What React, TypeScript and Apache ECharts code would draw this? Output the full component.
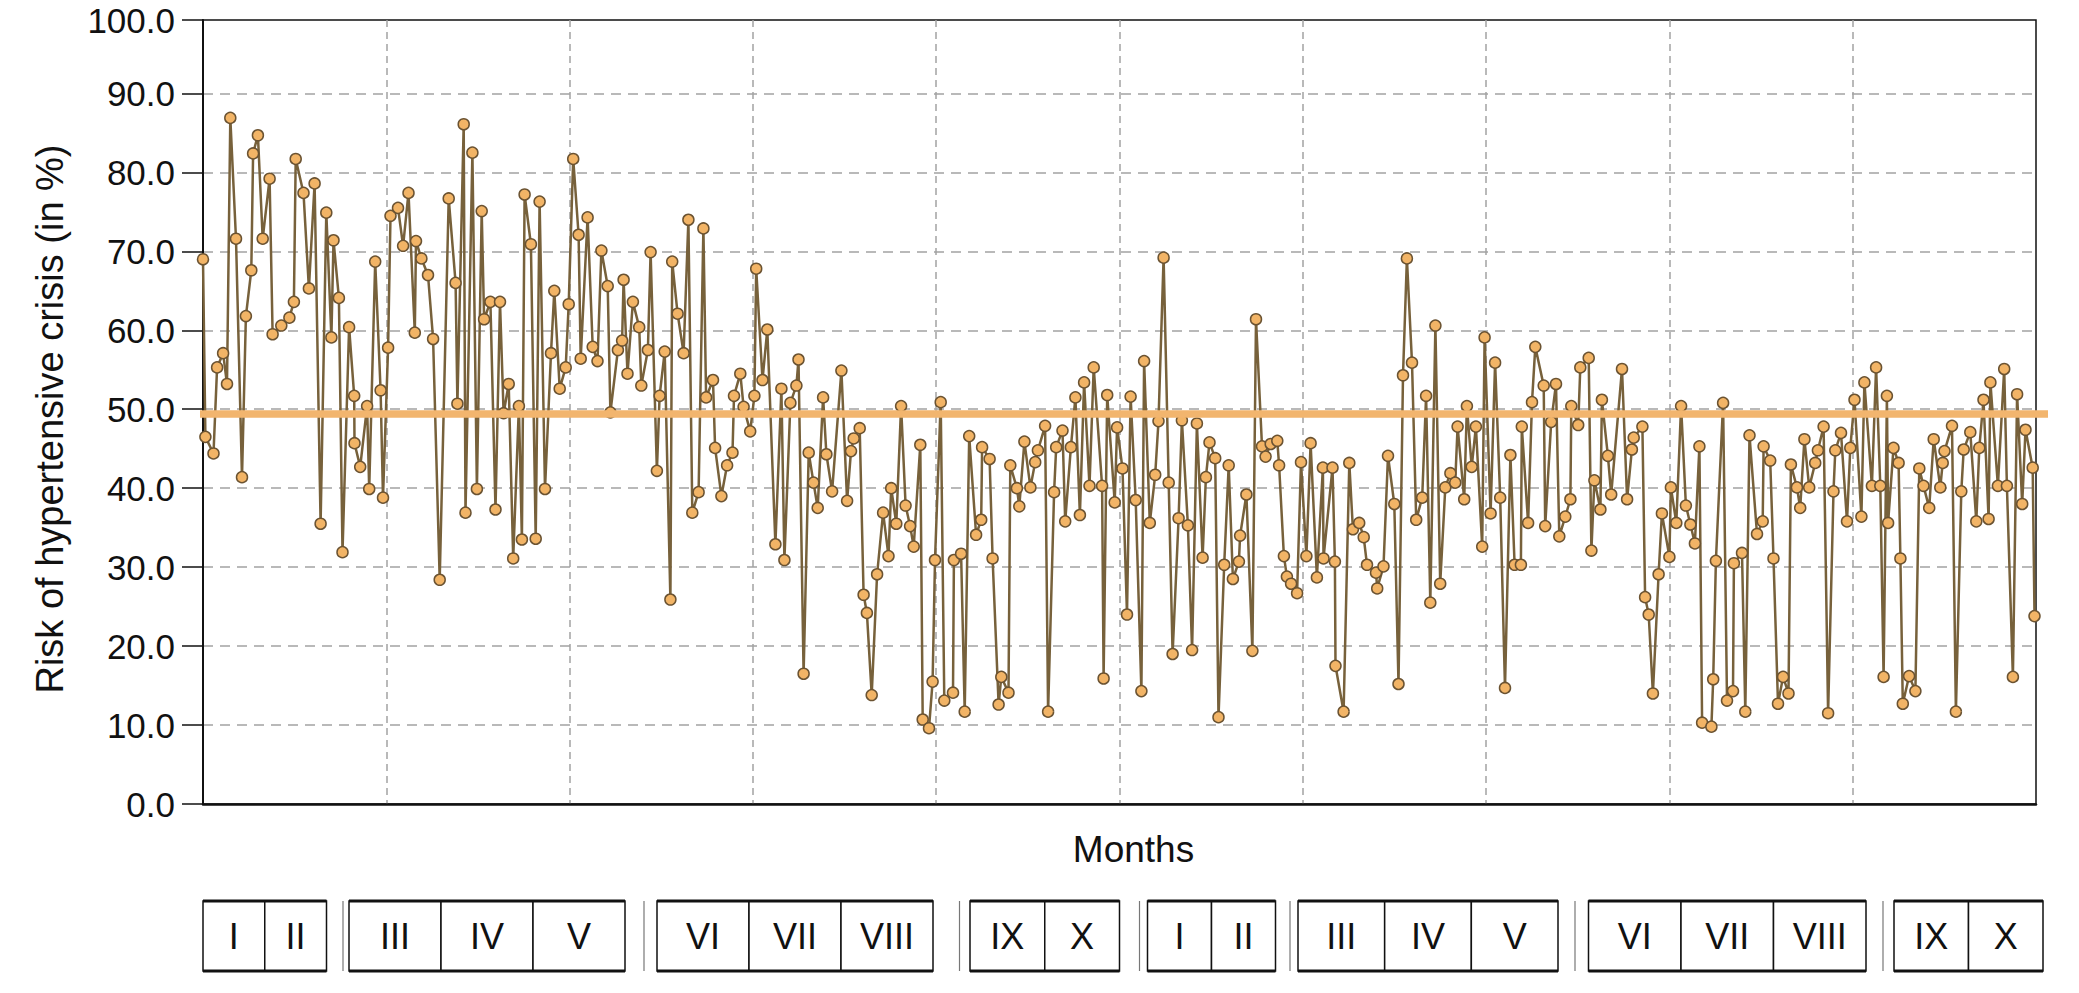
import React, { useEffect, useRef } from "react";
import * as echarts from "echarts";

const riskValues: number[] = [
  69.0, 46.5, 44.4, 55.3, 57.1, 53.2, 86.9, 71.6, 41.4, 61.8,
  67.6, 82.4, 84.7, 71.6, 79.2, 59.5, 60.6, 61.6, 63.6, 81.7,
  77.4, 65.3, 78.6, 35.5, 74.9, 59.1, 71.4, 64.1, 31.9, 60.4,
  51.7, 45.7, 42.7, 50.4, 39.9, 68.7, 52.4, 38.8, 57.8, 74.5,
  75.5, 70.7, 77.4, 59.7, 71.3, 69.1, 67.0, 58.9, 28.4, 76.7,
  66.0, 50.7, 86.1, 36.9, 82.5, 39.9, 75.1, 61.4, 63.6, 37.3,
  63.6, 49.5, 53.2, 31.1, 50.4, 33.5, 77.2, 70.9, 33.6, 76.3,
  39.9, 57.1, 65.0, 52.6, 55.3, 63.3, 81.7, 72.1, 56.4,
  74.3, 57.9, 56.1, 70.1, 65.6, 49.6, 57.5, 58.7, 66.4, 54.5,
  63.6, 60.4, 53.0, 57.5, 69.9, 42.2, 51.7, 57.3, 25.9, 68.7,
  62.1, 57.1, 74.0, 36.9, 39.5, 72.9, 51.5, 53.7, 45.1, 39.0,
  42.9, 44.5, 51.7, 54.5, 50.3, 47.2, 51.7, 67.8, 53.7, 60.1,
  32.9, 52.6, 30.9, 50.8, 53.0, 56.3, 16.5, 44.5, 40.7, 37.5,
  51.5, 44.3, 39.6, 54.9, 38.4, 44.7, 46.3, 47.6, 26.5, 24.2,
  13.8, 29.1, 36.9, 31.4, 40.0, 35.5, 50.4, 37.8, 35.2, 32.6,
  45.5, 10.7, 9.6, 15.5, 30.9, 50.9, 13.1, 14.1, 30.9,
  31.7, 11.7, 46.6, 34.1, 36.0, 45.2, 43.7, 31.1, 12.6, 16.1,
  14.1, 42.9, 40.0, 37.7, 45.9, 40.1, 43.3, 44.8, 47.9, 11.7,
  39.5, 45.2, 47.3, 35.8, 45.2, 51.5, 36.6, 53.4, 40.3, 55.3,
  40.3, 15.9, 51.8, 38.2, 47.7, 42.5, 24.0, 51.6, 38.5, 14.3,
  56.1, 35.6,
  41.7, 48.5, 69.2, 40.7, 19.0, 36.2, 48.6, 35.3, 19.5, 48.2,
  31.2, 41.4, 45.8, 43.8, 11.0, 30.3, 42.9, 28.5, 30.7, 34.0,
  39.2, 19.4, 61.4, 45.3, 44.0, 45.6, 46.0, 42.9, 31.4, 28.8,
  27.9, 26.7, 43.3, 31.4, 45.7, 28.7, 42.6, 31.1, 42.6, 30.7, 17.5,
  11.7, 43.2, 34.8, 35.6, 33.8, 30.3, 29.3, 27.3, 30.1, 44.1,
  38.0, 15.2, 54.3, 69.1, 55.9, 36.0, 38.8, 51.7, 25.5, 60.6,
  27.9, 40.1, 41.9, 40.7, 47.8, 38.6, 50.4, 42.7, 47.8, 32.6,
  59.1, 36.8, 55.9, 38.8, 14.7, 44.2, 30.3, 30.3, 47.8, 35.6,
  50.9, 57.9, 53.0, 35.2, 48.4, 53.2, 33.9, 36.4, 38.6, 50.4,
  48.0, 55.3, 56.5, 32.1, 41.0, 37.3, 51.2, 44.1, 39.2, 55.1,
  38.6, 44.9, 46.4, 47.8, 26.2, 24.0, 14.0, 29.1, 36.8, 31.3,
  40.1, 35.6, 50.4, 37.8, 35.4, 33.0, 45.3, 10.3, 9.8, 15.8, 30.8,
  50.8, 13.1, 14.3, 30.5, 31.8, 11.7, 46.7, 34.2, 35.8, 45.3,
  43.5, 31.1, 12.7, 16.1, 14.0, 43.0, 40.1, 37.5, 46.2, 40.1,
  43.2, 44.8, 47.8, 11.5, 39.6, 44.8, 47.0, 35.8, 45.1, 51.2,
  36.4, 53.4, 40.3, 55.3, 40.3, 16.1, 51.7, 35.6, 45.1, 43.2,
  31.1, 12.7, 16.2, 14.3, 42.5, 40.3, 37.5, 46.2, 40.1, 43.2,
  44.7, 47.9, 11.7, 39.6, 44.9, 47.1, 35.8, 45.1, 51.2, 36.1,
  53.4, 40.3, 55.1, 40.3, 16.1, 51.9, 38.0, 47.4, 42.6, 23.8,
];

const measurementDays: number[] = [
  0.0, 0.8, 3.5, 4.7, 6.7, 8.0, 9.1, 11.0, 13.0, 14.3,
  16.1, 16.7, 18.3, 19.9, 22.2, 23.2, 26.1, 28.8, 30.3, 30.9,
  33.5, 35.3, 37.2, 39.2, 41.1, 42.8, 43.5, 45.3, 46.5, 48.7,
  50.4, 50.5, 52.4, 54.7, 55.4, 57.4, 59.2, 60.0, 61.7, 62.5,
  65.0, 66.7, 68.5, 70.6, 71.0, 72.8, 75.0, 76.7, 78.9, 81.9,
  84.2, 84.8, 86.9, 87.5, 89.8, 91.3, 92.9, 93.7, 95.8, 97.5,
  99.0, 100.2, 101.9, 103.4, 105.3, 106.3, 107.2, 109.3, 110.9, 112.2,
  114.0, 116.0, 117.1, 118.9, 120.9, 121.9, 123.4, 125.2, 125.9,
  128.2, 129.9, 131.5, 132.8, 134.9, 135.8, 138.3, 139.7, 140.2, 141.5,
  143.3, 145.4, 146.1, 148.3, 149.2, 151.3, 152.2, 153.9, 155.8, 156.4,
  158.2, 160.2, 161.8, 163.1, 165.2, 166.8, 167.7, 170.0, 170.7, 172.8,
  174.7, 176.5, 177.0, 179.1, 180.2, 182.4, 183.8, 184.4, 186.5, 188.1,
  190.8, 192.8, 193.8, 195.8, 197.8, 198.5, 200.2, 201.9, 203.5, 204.9,
  206.7, 207.8, 209.7, 212.8, 214.7, 216.0, 216.9, 218.9, 220.2, 221.3,
  222.9, 224.7, 226.7, 228.5, 229.4, 231.1, 232.7, 234.2, 235.7, 236.9,
  239.1, 239.9, 242.0, 243.2, 244.0, 245.9, 247.1, 250.0, 250.3,
  252.7, 253.9, 255.4, 257.7, 259.4, 259.7, 262.2, 263.2, 265.2, 266.1,
  268.5, 269.1, 271.3, 272.1, 273.8, 275.8, 277.4, 278.3, 280.7, 281.7,
  283.7, 284.4, 286.5, 287.4, 289.3, 290.8, 292.3, 293.7, 295.5, 296.9,
  299.7, 300.2, 301.4, 303.9, 304.7, 306.5, 308.0, 309.2, 310.9, 312.8,
  313.7, 315.6,
  317.4, 318.5, 320.2, 321.9, 323.2, 325.2, 326.3, 328.3, 329.7, 331.3,
  333.2, 334.3, 335.5, 337.4, 338.5, 340.4, 341.9, 343.3, 345.3, 345.7,
  347.8, 349.8, 351.0, 353.0, 354.2, 355.9, 358.1, 358.7, 360.3, 361.3,
  362.7, 364.7, 366.0, 367.8, 369.2, 371.3, 373.3, 373.5, 376.5, 377.3, 377.5,
  380.2, 382.1, 383.3, 385.4, 386.9, 388.0, 391.0, 391.4, 393.5, 395.0,
  397.1, 398.5, 400.0, 401.3, 403.0, 404.4, 406.4, 407.7, 409.1, 410.8,
  412.4, 414.1, 415.8, 417.4, 418.2, 420.4, 421.3, 422.9, 424.3, 426.4,
  427.2, 429.2, 430.7, 432.4, 434.0, 435.8, 437.2, 439.3, 439.6, 441.7,
  443.0, 444.1, 446.9, 447.4, 449.4, 451.0, 452.1, 454.1, 455.8, 456.1,
  458.4, 459.1, 461.9, 462.8, 463.8, 465.8, 466.3, 468.3, 469.4, 473.0,
  474.7, 476.3, 476.9, 479.8, 480.7, 481.9, 483.3, 485.2, 486.3, 488.8,
  489.3, 491.1, 492.7, 494.3, 495.8, 497.3, 498.8, 499.7, 502.8, 503.4, 504.3,
  506.7, 508.0, 510.0, 510.3, 513.0, 514.1, 515.5, 518.0, 519.9, 520.2,
  522.4, 523.5, 525.0, 526.7, 528.5, 529.3, 531.3, 532.4, 533.8, 535.4,
  537.4, 538.3, 540.2, 541.7, 543.5, 544.1, 546.0, 548.0, 549.1, 550.5,
  552.8, 553.8, 556.3, 557.7, 559.1, 560.2, 561.3, 561.7, 563.5, 565.2,
  565.8, 566.6, 568.7, 570.8, 572.1, 573.5, 575.4, 576.9, 579.1, 579.9,
  580.5, 583.0, 584.3, 586.1, 586.9, 589.1, 591.1, 592.1, 593.5, 595.2,
  595.8, 598.3, 600.4, 601.3, 603.3, 604.7, 606.4, 607.5, 609.9, 610.5,
];

const periodDays = 611; // length of the observation period shown on the x axis
const meanRisk = 49.4;  // mean risk level (horizontal reference line)

// Month labels shown in the boxes below the chart, grouped as in the reference
const monthGroups: string[][] = [
  ["I", "II"], ["III", "IV", "V"], ["VI", "VII", "VIII"], ["IX", "X"],
  ["I", "II"], ["III", "IV", "V"], ["VI", "VII", "VIII"], ["IX", "X"],
];

const yAxisTitle = "Risk of hypertensive crisis (in %)";
const xAxisTitle = "Months";
const topTickLabel = "100.0";

// ---- layout (pixels) ----
const W = 2079;
const H = 993;
const GRID = { left: 203, right: 43, top: 20, bottom: 189 };
const Y_MAX = 99.3; // top frame of the plot, labelled "100.0" in the reference
const BOX_TOP = 901;
const BOX_H = 70;
const GROUP_SPANS: [number, number][] = [
  [203, 326.5], [349, 625], [657, 933], [970, 1119.5],
  [1147.5, 1275.5], [1298, 1558], [1588.5, 1866], [1894, 2043],
];
const SEPARATORS = [343, 644, 959.5, 1139.5, 1290, 1575, 1883];

const FONT = "'Liberation Sans', Arial, sans-serif";
const INK = "#111111";

export default function App() {
  const ref = useRef<HTMLDivElement>(null);

  useEffect(() => {
    document.body.style.margin = "0";
    const el = ref.current!;
    const chart = echarts.init(el, null, { renderer: "svg", width: W, height: H });
    const n = Math.min(riskValues.length, measurementDays.length);
    const seriesData = riskValues.slice(0, n).map((v, i) => [measurementDays[i], v]);

    chart.setOption({
      animation: false,
      backgroundColor: "#ffffff",
      textStyle: { fontFamily: FONT },
      grid: {
        left: GRID.left, right: GRID.right, top: GRID.top, bottom: GRID.bottom,
        show: true, borderColor: INK, borderWidth: 1.5, backgroundColor: "transparent",
      },
      xAxis: {
        type: "value",
        min: 0,
        max: periodDays,
        interval: periodDays / 10,
        axisLine: { show: true, lineStyle: { color: INK, width: 2.5 } },
        axisTick: { show: false },
        axisLabel: { show: false },
        splitLine: { show: true, showMinLine: false, showMaxLine: false, lineStyle: { color: "#a3a3a3", width: 1.5, type: [7, 5] } },
        name: xAxisTitle,
        nameLocation: "middle",
        nameGap: 27,
        nameTextStyle: { fontSize: 37, color: INK, fontFamily: FONT, padding: [0, 0, 0, 28] },
      },
      yAxis: {
        type: "value",
        min: 0,
        max: Y_MAX,
        interval: 10,
        axisLine: { show: true, lineStyle: { color: INK, width: 2 } },
        axisTick: { show: true, length: 21, lineStyle: { color: INK, width: 1.5 } },
        axisLabel: {
          margin: 28,
          fontSize: 35,
          color: INK,
          fontFamily: FONT,
          formatter: (v: number) => (v >= Y_MAX - 0.01 ? topTickLabel : v.toFixed(1)),
        },
        splitLine: { show: true, showMinLine: false, showMaxLine: false, lineStyle: { color: "#a3a3a3", width: 1.5, type: [10, 7] } },
        name: yAxisTitle,
        nameLocation: "middle",
        nameGap: 134,
        nameTextStyle: { fontSize: 38, color: INK, fontFamily: FONT, padding: [0, 14, 0, 0] },
      },
      series: [
        {
          type: "line",
          data: seriesData,
          symbol: "circle",
          symbolSize: 11,
          showAllSymbol: true,
          clip: false,
          lineStyle: { color: "#77613b", width: 2.5 },
          itemStyle: { color: "#f2b466", borderColor: "#6b5332", borderWidth: 1.5 },
          z: 3,
        },
      ],
    });

    // Mean line, positioned through the chart's own y scale
    const yMean = chart.convertToPixel({ yAxisIndex: 0 }, meanRisk) as number;
    const xStart = chart.convertToPixel({ xAxisIndex: 0 }, 0) as number;

    const graphics: any[] = [
      {
        type: "line",
        z: 50,
        shape: { x1: xStart - 3, y1: yMean, x2: W - 31, y2: yMean },
        style: { stroke: "#f2b56e", lineWidth: 7.5 },
      },
    ];

    monthGroups.forEach((group, gi) => {
      const [x0, x1] = GROUP_SPANS[gi];
      const cw = (x1 - x0) / group.length;
      group.forEach((label, ci) => {
        const cx = x0 + ci * cw;
        graphics.push({
          type: "rect",
          shape: { x: cx, y: BOX_TOP, width: cw, height: BOX_H },
          style: { fill: "#ffffff", stroke: INK, lineWidth: 1.5 },
        });
        graphics.push({
          type: "text",
          style: {
            text: label,
            x: cx + cw / 2,
            y: BOX_TOP + BOX_H / 2,
            align: "center",
            verticalAlign: "middle",
            textAlign: "center",
            textVerticalAlign: "middle",
            fontSize: 36,
            fontFamily: FONT,
            fill: INK,
          },
        });
      });
      graphics.push({
        type: "line",
        shape: { x1: x0, y1: BOX_TOP, x2: x1, y2: BOX_TOP },
        style: { stroke: INK, lineWidth: 3 },
      });
      graphics.push({
        type: "line",
        shape: { x1: x0, y1: BOX_TOP + BOX_H, x2: x1, y2: BOX_TOP + BOX_H },
        style: { stroke: INK, lineWidth: 3 },
      });
    });

    SEPARATORS.forEach((sx) => {
      graphics.push({
        type: "line",
        shape: { x1: sx, y1: BOX_TOP, x2: sx, y2: BOX_TOP + BOX_H },
        style: { stroke: "#777777", lineWidth: 1.2 },
      });
    });

    chart.setOption({ graphic: graphics });

    return () => chart.dispose();
  }, []);

  return <div ref={ref} style={{ width: W, height: H }} />;
}
